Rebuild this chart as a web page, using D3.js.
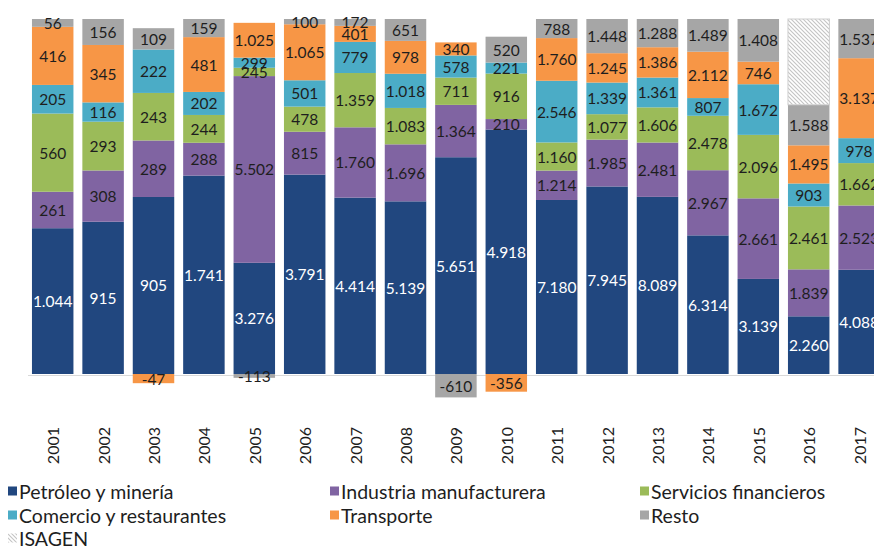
<!DOCTYPE html>
<html lang="en">
<head>
  <meta charset="UTF-8">
  <title>Inversión extranjera por sector</title>
  <script src="https://d3js.org/d3.v7.min.js"></script>
</head>
<body style="margin: 0; overflow: hidden; background: #fff;">

<script>
  //Data (millions, Spanish number format)
  const years = ['2001', '2002', '2003', '2004', '2005', '2006', '2007', '2008', '2009',
                 '2010', '2011', '2012', '2013', '2014', '2015', '2016', '2017'];
  const petroleo   = [1044, 915, 905, 1741, 3276, 3791, 4414, 5139, 5651, 4918, 7180, 7945, 8089, 6314, 3139, 2260, 4088];
  const industria  = [261, 308, 289, 288, 5502, 815, 1760, 1696, 1364, 210, 1214, 1985, 2481, 2967, 2661, 1839, 2523];
  const servicios  = [560, 293, 243, 244, 245, 478, 1359, 1083, 711, 916, 1160, 1077, 1606, 2478, 2096, 2461, 1662];
  const comercio   = [205, 116, 222, 202, 299, 501, 779, 1018, 578, 221, 2546, 1339, 1361, 807, 1672, 903, 978];
  const transporte = [416, 345, -47, 481, 1025, 1065, 401, 978, 340, -356, 1760, 1245, 1386, 2112, 746, 1495, 3137];
  const resto      = [56, 156, 109, 159, -113, 100, 172, 651, -610, 520, 788, 1448, 1288, 1489, 1408, 1588, 1537];
  const isagen     = [0, 0, 0, 0, 0, 0, 0, 0, 0, 0, 0, 0, 0, 0, 0, 3360, 0];

  const seriesNames = ['Petróleo y minería', 'Industria manufacturera', 'Servicios financieros',
                       'Comercio y restaurantes', 'Transporte', 'Resto', 'ISAGEN'];
  const seriesValues = [petroleo, industria, servicios, comercio, transporte, resto, isagen];
  const colors = ['#21477f', '#8064a2', '#9bbb59', '#4bacc6', '#f79646', '#a6a6a6', 'url(#hatch)'];
  const labelColors = ['#fff', '#1e1e1e', '#1e1e1e', '#1e1e1e', '#1e1e1e', '#1e1e1e', 'none'];

  const width = 874, height = 546;
  const baseY = 374, topY = 19;
  const font = 'Lato, "Open Sans", sans-serif';

  const svg = d3.select('body').append('svg')
    .attr('width', width)
    .attr('height', height);

  //Hatch pattern for ISAGEN
  const pattern = svg.append('defs').append('pattern')
    .attr('id', 'hatch')
    .attr('patternUnits', 'userSpaceOnUse')
    .attr('width', 4)
    .attr('height', 4);
  pattern.append('rect').attr('width', 4).attr('height', 4).attr('fill', '#fff');
  pattern.append('path')
    .attr('d', 'M-1,-1 L5,5 M3,-1 L5,1 M-1,3 L1,5')
    .attr('stroke', '#c4c4c4')
    .attr('stroke-width', 1.1);

  //Spanish number format (1.044, -47)
  const locale = d3.formatLocale({ decimal: ',', thousands: '.', grouping: [3], currency: ['$', ''], minus: '-' });
  const fmt = locale.format(',d');

  const x = d3.scaleBand()
    .domain(years)
    .range([27.5, 884.3])
    .paddingInner(0.177)
    .paddingOuter(0.0885);

  //Each bar is normalised to the sum of absolute values (positive up, negative down)
  const y = d3.scaleLinear().domain([0, 1]).range([baseY, topY]);

  const segments = [];
  years.forEach((yr, i) => {
    const total = d3.sum(seriesValues, s => Math.abs(s[i]));
    let pos = 0, neg = 0;
    seriesValues.forEach((s, k) => {
      const v = s[i];
      if (v === 0) return;
      const f = Math.abs(v) / total;
      let y0, y1;
      if (v > 0) { y0 = pos; y1 = pos + f; pos = y1; }
      else { y0 = neg - f; y1 = neg; neg = y0; }
      segments.push({ year: yr, k: k, value: v, y0: y0, y1: y1 });
    });
  });

  //Baseline
  svg.append('line')
    .attr('x1', 28).attr('x2', width)
    .attr('y1', baseY + 1.5).attr('y2', baseY + 1.5)
    .attr('stroke', '#d9d9d9')
    .attr('stroke-width', 1);

  //Bars
  svg.append('g').selectAll('rect')
    .data(segments)
    .join('rect')
    .attr('x', d => x(d.year))
    .attr('width', x.bandwidth())
    .attr('y', d => y(d.y1))
    .attr('height', d => y(d.y0) - y(d.y1))
    .attr('fill', d => colors[d.k])
    .attr('stroke', d => d.k === 6 ? '#cfcfcf' : 'none')
    .attr('stroke-width', 1);

  //Value labels
  svg.append('g').selectAll('text')
    .data(segments.filter(d => d.k !== 6))
    .join('text')
    .attr('x', d => x(d.year) + x.bandwidth() / 2)
    .attr('y', d => (y(d.y0) + y(d.y1)) / 2)
    .attr('text-anchor', 'middle')
    .attr('dominant-baseline', 'central')
    .attr('font-size', 15.5)
    .style('font-family', font)
    .attr('fill', d => labelColors[d.k])
    .text(d => fmt(d.value));

  //Year labels, rotated
  svg.append('g').selectAll('text')
    .data(years)
    .join('text')
    .attr('transform', d => `translate(${x(d) + x.bandwidth() / 2},427) rotate(-90)`)
    .attr('text-anchor', 'end')
    .attr('dominant-baseline', 'central')
    .attr('font-size', 16)
    .style('font-family', font)
    .attr('fill', '#1e1e1e')
    .text(d => d);

  //Legend
  const legendPos = [[8, 491], [330, 491], [640, 491], [8, 515], [330, 515], [640, 515], [8, 538]];
  const legend = svg.append('g').selectAll('g')
    .data(seriesNames)
    .join('g')
    .attr('transform', (d, i) => `translate(${legendPos[i][0]},${legendPos[i][1]})`);

  legend.append('rect')
    .attr('x', 0).attr('y', -4.5)
    .attr('width', 9).attr('height', 9)
    .attr('fill', (d, i) => colors[i]);

  legend.append('text')
    .attr('x', 11)
    .attr('dominant-baseline', 'central')
    .attr('font-size', 19.5)
    .style('font-family', font)
    .attr('fill', '#1e1e1e')
    .text(d => d);
</script>

</body>
</html>
